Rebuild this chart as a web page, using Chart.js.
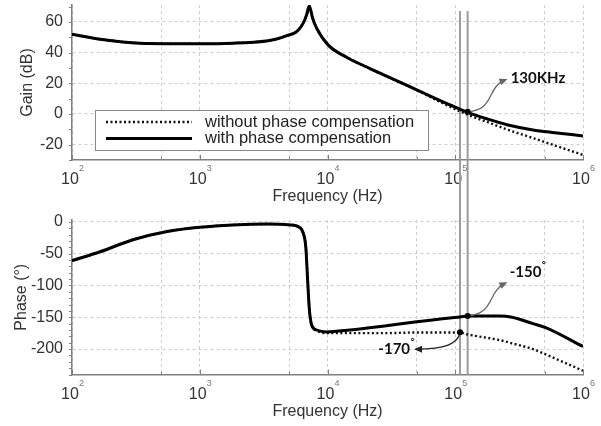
<!DOCTYPE html>
<html>
<head>
<meta charset="utf-8">
<script src="https://cdn.jsdelivr.net/npm/chart.js@4"></script>
<style>
    html, body { margin: 0; padding: 0; background: #fff; }
    #wrap { position: relative; width: 601px; height: 426px; }
    canvas { position: absolute; left: 0; display: block; }
    #gain_pane { top: 0; }
    #phase_pane { top: 210px; }
</style>
</head>
<body>
<div id="wrap">
    <canvas id="gain_pane" width="601" height="210" style="width:601px;height:210px"></canvas>
    <canvas id="phase_pane" width="601" height="216" style="width:601px;height:216px"></canvas>
</div>
<script>
// gain plot (dB)
const gainFreq = [100, 166, 340, 1000, 1820, 3340, 4000, 4800, 5740, 6460, 6870, 7190, 7650, 8220, 10100, 14100, 21500, 27000, 50000, 91000, 126000, 180000, 254000, 406000, 600000, 1000000]
const gainWith = [52, 48.7, 46.1, 45.7, 46.1, 47.6, 48.8, 51, 53.7, 59.2, 64.6, 70.4, 62.4, 55.9, 45, 37, 29.6, 25.8, 15.7, 5.9, 0.9, -3.4, -7, -10.4, -12.2, -14.3]
const gainWithout = [52, 48.7, 46.1, 45.7, 46.1, 47.6, 48.8, 51, 53.7, 59.2, 64.6, 70.4, 62.4, 55.9, 45, 37, 29.6, 25.8, 15.4, 4.7, -0.6, -5.4, -10.1, -15.7, -20.5, -26.7]

// phase plot (deg)
const phaseFreq = [100, 166, 300, 555, 1000, 1820, 3400, 5080, 5900, 6460, 6770, 7000, 7200, 7510, 8220, 9860, 15000, 27000, 50000, 91000, 109000, 125000, 224000, 278000, 406000, 505000, 1000000]
const phaseWith = [-61, -47, -28, -15, -8.4, -4.7, -3.3, -4.7, -7.4, -17.8, -41, -94, -136, -162, -170, -173, -170, -164, -157, -151, -149.5, -148, -148, -150, -160, -166, -196]
const phaseWithout = [-61, -47, -28, -15, -8.4, -4.7, -3.3, -4.7, -7.4, -17.8, -41, -94, -136, -162, -171, -175, -175, -175, -174, -174, -174, -177, -186, -191, -200, -208, -234]

const seriesNames = ['without phase compensation', 'with phase compensation']

// the two gray marker lines and the callouts
const markFreqs = [109000, 125000]
const gainNoteFreqs = [125000]
const gainNoteValues = [1.5]
const gainNoteTexts = ['130KHz']
const phaseNoteFreqs = [125000, 109000]
const phaseNoteValues = [-148, -173.5]
const phaseNoteTexts = ['-150', '-170']

const font_family = '"Liberation Sans", Arial, sans-serif'
const note_family = 'Lato, "Open Sans", sans-serif'

const to_points = (xs, ys) => xs.map((x, i) => ({ x: x, y: ys[i] }))

const mantissa = (v) => {
    let e = Math.floor(Math.log10(v) + 1e-9)
    return Math.round(v / Math.pow(10, e))
}

const draw_arrow = (ctx, x, y, c, color) => {
    ctx.strokeStyle = color
    ctx.fillStyle = color
    ctx.lineWidth = 1.3
    ctx.beginPath()
    ctx.moveTo(x, y)
    ctx.bezierCurveTo(x + c[0], y + c[1], x + c[2], y + c[3], x + c[4], y + c[5])
    ctx.stroke()
    let ang = Math.atan2(c[5] - c[3], c[4] - c[2])
    let tx = x + c[4], ty = y + c[5]
    let cs = Math.cos(ang), sn = Math.sin(ang)
    ctx.beginPath()
    ctx.moveTo(tx + 2 * cs, ty + 2 * sn)
    ctx.lineTo(tx - 6 * cs + 3.5 * sn, ty - 6 * sn - 3.5 * cs)
    ctx.lineTo(tx - 6 * cs - 3.5 * sn, ty - 6 * sn + 3.5 * cs)
    ctx.closePath()
    ctx.fill()
    return [tx, ty]
}

const draw_dot = (ctx, x, y) => {
    ctx.fillStyle = '#000'
    ctx.beginPath()
    ctx.arc(x, y, 3, 0, Math.PI * 2)
    ctx.fill()
}

const draw_note = (ctx, tip, text, mode, degree) => {
    ctx.font = 'bold 15px ' + note_family
    ctx.fillStyle = '#111'
    ctx.textBaseline = 'middle'
    ctx.textAlign = 'left'
    let w = ctx.measureText(text).width
    let tx, ty
    if (mode === 'right') { tx = tip[0] + 5; ty = tip[1] - 2 }
    else if (mode === 'above') { tx = tip[0] + 4; ty = tip[1] - 11 }
    else { tx = tip[0] - 6 - w; ty = tip[1] }
    ctx.fillText(text, tx, ty)
    if (degree) {
        ctx.font = 'bold 10px ' + note_family
        ctx.fillText('°', tx + w + 0.5, ty - 7)
    }
}

// gray axis marks, superscript exponents, marker lines
const axis_marks = {
    id: 'axis_marks',
    beforeDatasetsDraw(chart) {
        let ctx = chart.ctx
        let xs = chart.scales.x
        let area = chart.chartArea
        let top_chart = chart.canvas.id === 'gain_pane'
        ctx.save()
        ctx.strokeStyle = '#9c9c9c'
        ctx.lineWidth = 2
        markFreqs.forEach(f => {
            let px = xs.getPixelForValue(f)
            ctx.beginPath()
            ctx.moveTo(px, top_chart ? area.top + 6 : 0)
            ctx.lineTo(px, top_chart ? chart.height : area.bottom)
            ctx.stroke()
        })
        ctx.restore()
    },
    afterDraw(chart) {
        let ctx = chart.ctx
        let xs = chart.scales.x, ys = chart.scales.y
        let area = chart.chartArea
        ctx.save()
        ctx.strokeStyle = '#7f7f7f'
        ctx.lineWidth = 1
        ctx.beginPath()
        xs.ticks.forEach(t => {
            let m = mantissa(t.value)
            if (m !== 1 && m !== 5) return
            let px = Math.round(xs.getPixelForValue(t.value)) + 0.5
            ctx.moveTo(px, area.bottom)
            ctx.lineTo(px, area.bottom - (m === 1 ? 5 : 3))
        })
        for (let v = Math.ceil(ys.min / 10) * 10; v <= ys.max; v += 10) {
            let py = Math.round(ys.getPixelForValue(v)) + 0.5
            ctx.moveTo(area.left - 3, py)
            ctx.lineTo(area.left, py)
        }
        ctx.stroke()

        ctx.fillStyle = '#777'
        ctx.font = '9px ' + font_family
        ctx.textBaseline = 'middle'
        ctx.textAlign = 'left'
        xs.ticks.forEach(t => {
            if (mantissa(t.value) !== 1) return
            let px = xs.getPixelForValue(t.value)
            ctx.fillText(String(Math.round(Math.log10(t.value))), px + 7, area.bottom + 9)
        })
        ctx.restore()
    }
}

const gain_extras = {
    id: 'gain_extras',
    afterDatasetsDraw(chart) {
        let ctx = chart.ctx
        let xs = chart.scales.x, ys = chart.scales.y
        let area = chart.chartArea
        ctx.save()

        // legend box inside the plot
        let bx = area.left + 23, by = area.top + 105, bw = 333, bh = 40
        ctx.fillStyle = '#fff'
        ctx.fillRect(bx, by, bw, bh)
        ctx.strokeStyle = '#8a8a8a'
        ctx.lineWidth = 1
        ctx.strokeRect(Math.round(bx) + 0.5, Math.round(by) + 0.5, bw, bh)
        chart.data.datasets.forEach((ds, i) => {
            let ly = by + 12 + i * 16.5
            ctx.strokeStyle = ds.borderColor
            ctx.lineWidth = ds.borderWidth
            ctx.setLineDash(ds.borderDash || [])
            ctx.beginPath()
            ctx.moveTo(bx + 11, ly)
            ctx.lineTo(bx + 97, ly)
            ctx.stroke()
            ctx.setLineDash([])
            ctx.fillStyle = '#222'
            ctx.font = '16.5px ' + font_family
            ctx.textBaseline = 'middle'
            ctx.textAlign = 'left'
            ctx.fillText(ds.label, bx + 110, ly)
        })

        gainNoteFreqs.forEach((f, i) => {
            let px = xs.getPixelForValue(f), py = ys.getPixelForValue(gainNoteValues[i])
            let tip = draw_arrow(ctx, px, py, [28, -2, 18, -24, 38, -32], '#666')
            draw_dot(ctx, px, py)
            draw_note(ctx, tip, gainNoteTexts[i], 'right', false)
        })
        ctx.restore()
    }
}

const phase_shapes = [
    { curve: [28, -3, 19, -24, 38, -33], color: '#666', mode: 'above' },
    { curve: [-2, 12, -15, 17, -44, 17], color: '#222', mode: 'left' }
]

const phase_extras = {
    id: 'phase_extras',
    afterDatasetsDraw(chart) {
        let ctx = chart.ctx
        let xs = chart.scales.x, ys = chart.scales.y
        ctx.save()
        phaseNoteFreqs.forEach((f, i) => {
            let px = xs.getPixelForValue(f), py = ys.getPixelForValue(phaseNoteValues[i])
            let shape = phase_shapes[i]
            let tip = draw_arrow(ctx, px, py, shape.curve, shape.color)
            draw_dot(ctx, px, py)
            draw_note(ctx, tip, phaseNoteTexts[i], shape.mode, true)
        })
        ctx.restore()
    }
}

const make_options = (y_min, y_max, y_step, y_title, pads) => {
    return {
        responsive: false,
        animation: false,
        layout: { padding: { top: pads.top, right: 18, left: 0, bottom: 0 } },
        plugins: { legend: { display: false }, tooltip: { enabled: false } },
        elements: { point: { radius: 0 } },
        scales: {
            x: {
                type: 'logarithmic',
                min: 100,
                max: 1000000,
                afterFit: (scale) => {
                    scale.height = pads.x_height
                    scale.paddingLeft = 0
                    scale.paddingRight = 0
                },
                border: { display: true, color: '#7f7f7f', width: 1.5, dash: [3, 3] },
                grid: {
                    drawTicks: false,
                    lineWidth: 1,
                    color: (c) => {
                        if (!c.tick) return 'transparent'
                        let m = mantissa(c.tick.value)
                        return (m === 1 || m === 5) ? '#cdcdcd' : 'transparent'
                    }
                },
                ticks: {
                    autoSkip: false,
                    maxRotation: 0,
                    padding: 10,
                    labelOffset: -2,
                    color: '#333',
                    font: { family: font_family, size: 16 },
                    callback: (v) => mantissa(v) === 1 ? '10' : ''
                },
                title: {
                    display: true,
                    text: 'Frequency (Hz)',
                    color: '#333',
                    font: { family: font_family, size: 16 },
                    padding: { top: 0, bottom: pads.x_title }
                }
            },
            y: {
                min: y_min,
                max: y_max,
                afterFit: (scale) => {
                    scale.width = 72
                    scale.paddingTop = 0
                    scale.paddingBottom = 0
                },
                border: { display: true, color: '#7f7f7f', width: 1.5, dash: [3, 3] },
                grid: { drawTicks: false, lineWidth: 1, color: '#cdcdcd' },
                ticks: {
                    stepSize: y_step,
                    includeBounds: false,
                    padding: 9,
                    color: '#333',
                    font: { family: font_family, size: 16 }
                },
                title: {
                    display: true,
                    text: y_title,
                    color: '#333',
                    font: { family: font_family, size: 16 },
                    padding: { top: pads.y_title, bottom: 0 }
                }
            }
        }
    }
}

const make_sets = (freqs, without_vals, with_vals) => [
    {
        label: seriesNames[0],
        data: to_points(freqs, without_vals),
        borderColor: '#111',
        borderWidth: 2.4,
        borderDash: [2, 2.5],
        cubicInterpolationMode: 'monotone',
        order: 1
    },
    {
        label: seriesNames[1],
        data: to_points(freqs, with_vals),
        borderColor: '#000',
        borderWidth: 3,
        cubicInterpolationMode: 'monotone',
        order: 0
    }
]

new Chart(document.getElementById('gain_pane').getContext('2d'), {
    type: 'line',
    data: { datasets: make_sets(gainFreq, gainWithout, gainWith) },
    options: make_options(-30, 71, 20, 'Gain (dB)', { top: 5, x_height: 50, x_title: 4, y_title: 18 }),
    plugins: [axis_marks, gain_extras]
})

new Chart(document.getElementById('phase_pane').getContext('2d'), {
    type: 'line',
    data: { datasets: make_sets(phaseFreq, phaseWithout, phaseWith) },
    options: make_options(-240, 3, 50, 'Phase (°)', { top: 10, x_height: 51.5, x_title: 5, y_title: 12 }),
    plugins: [axis_marks, phase_extras]
})
</script>
</body>
</html>
